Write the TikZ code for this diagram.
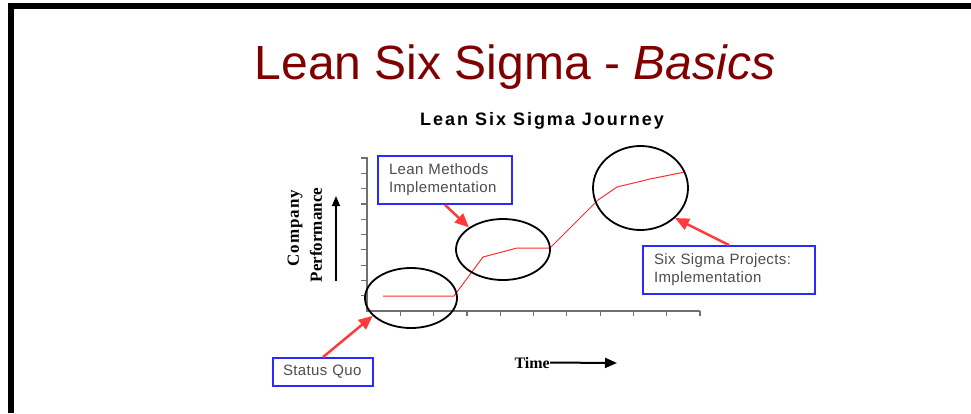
\documentclass[tikz,border=0pt]{standalone}
\usepackage{fontspec}
\setmainfont{Liberation Sans}
\newfontfamily\tnr{Liberation Serif}
\newfontfamily\tnrsp{Liberation Serif}[LetterSpace=6]
\newfontfamily\boxfont{Liberation Sans}[LetterSpace=2.5]
\newfontfamily\subfont{Liberation Sans}[LetterSpace=11]
\usetikzlibrary{shapes.geometric,arrows.meta}
\definecolor{titlered}{HTML}{800000}
\definecolor{boxblue}{HTML}{2A2AFF}
\definecolor{boxtext}{HTML}{4D4D4D}
\definecolor{arrowred}{HTML}{FF3A3A}
\definecolor{axisgray}{HTML}{707070}
\definecolor{curvered}{HTML}{FF3030}
\begin{document}
\begin{tikzpicture}[x=1pt,y=-1pt,
  ell/.style={draw,line width=1.8pt,ellipse,inner sep=0pt},
  callout/.style={draw=boxblue,line width=1.8pt,fill=white,inner sep=0pt,
    font=\boxfont\fontsize{15}{18}\selectfont,text=boxtext,align=left},
  redarrow/.style={draw=arrowred,line width=2.5pt,
    -{Triangle[length=14pt,width=12pt,fill=arrowred]}},
  chartaxis/.style={draw=axisgray,line width=1.8pt},
  tickline/.style={draw=axisgray,line width=1.2pt},
  seriflabel/.style={font=\tnr\bfseries\fontsize{17}{20}\selectfont,inner sep=0pt}]
\useasboundingbox (0,0) rectangle (971,413);
\fill[white] (0,0) rectangle (971,413);
% frame
\fill[black] (8,3) rectangle (971,9);
\fill[black] (8,3) rectangle (14,413);
% title
\node[anchor=base,text=titlered,font=\fontsize{48}{58}\selectfont,inner sep=0pt] (title) at (515,79) {Lean Six Sigma - \textit{Basics}};
\node[anchor=base,font=\subfont\bfseries\fontsize{18}{22}\selectfont,inner sep=0pt] (subtitle) at (542,125) {Lean Six Sigma Journey};
% axes
\draw[chartaxis] (367,157) -- (367,311) -- (700,311);
\foreach \k in {1,...,10} {
  \draw[tickline] (361,{311-15.3*\k}) -- (367,{311-15.3*\k});
  \draw[tickline] ({367+33.3*\k},311) -- ({367+33.3*\k},316);
}
% curve
\draw[curvered,line width=1pt] (383,296) -- (454,296) -- (483,257) -- (517,248) -- (550,248) -- (598,200) -- (617,187) -- (650,179) -- (685,172);
% ellipses
\node[ell,minimum width=92pt,minimum height=60pt] (e1) at (411,298) {};
\node[ell,minimum width=94pt,minimum height=61pt] (e2) at (503,249.5) {};
\node[ell,minimum width=95pt,minimum height=84pt] (e3) at (640.5,188) {};
% callouts
\node[callout,minimum width=134pt,minimum height=48pt,text width=112pt] (lean) at (445,180) {Lean Methods\\Implementation};
\node[callout,minimum width=172pt,minimum height=48pt,text width=150pt] (six) at (729,270) {Six Sigma Projects:\\Implementation};
\node[callout,minimum width=100pt,minimum height=28pt,text width=80pt] (sq) at (323,372) {Status Quo};
% arrows
\draw[redarrow] (lean.south) -- (e2.147);
\draw[redarrow] (six.north) -- (e3.-41);
\draw[redarrow] (sq.north) -- (e1.205.3);
% axis labels
\node[seriflabel,font=\tnrsp\bfseries\fontsize{17}{20}\selectfont,rotate=90] (company) at (295,228) {Company};
\node[seriflabel,rotate=90] (perf) at (316,235) {Performance};
\coordinate (ya0) at (336,281);
\coordinate (ya1) at (336,196);
\draw[black,line width=1.3pt,-{Triangle[length=10pt,width=8pt]}] (ya0) -- (ya1);
\node[seriflabel,font=\tnr\bfseries\fontsize{16}{19}\selectfont,anchor=base east] (time) at (550,368) {Time};
\coordinate (tend) at (617,363);
\draw[black,line width=2pt,-{Triangle[length=12pt,width=10pt]}] (time.east) -- (tend);
\end{tikzpicture}
\end{document}
